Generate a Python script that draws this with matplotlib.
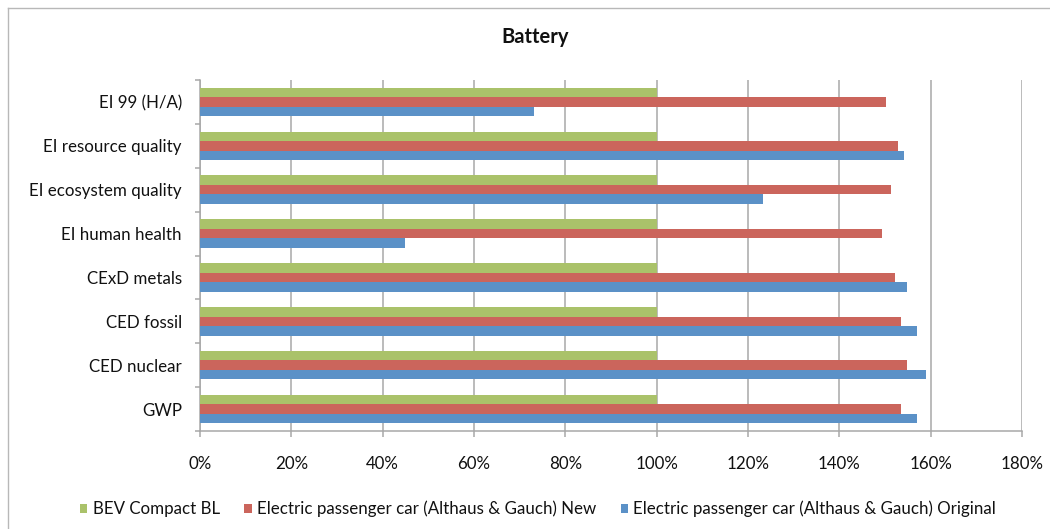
import numpy as np
import matplotlib.pyplot as plt
from matplotlib.lines import Line2D
from matplotlib.patches import Patch

plt.rcParams['font.family'] = ['Lato', 'DejaVu Sans']

categories = ['GWP', 'CED nuclear', 'CED fossil', 'CExD metals',
              'EI human health', 'EI ecosystem quality', 'EI resource quality', 'EI 99 (H/A)']
bev_baseline = [100, 100, 100, 100, 100, 100, 100, 100]
althaus_new = [153.5, 154.9, 153.5, 152.2, 149.4, 151.4, 152.8, 150.2]
althaus_original = [156.9, 159.0, 157.1, 154.8, 44.8, 123.3, 154.2, 73.1]
series_names = ['BEV Compact BL',
                'Electric passenger car (Althaus & Gauch) New',
                'Electric passenger car (Althaus & Gauch) Original']
colors = ['#AAC26A', '#CB655C', '#5B91C7']
xticks = [0, 20, 40, 60, 80, 100, 120, 140, 160, 180]

fig = plt.figure(figsize=(10.5, 5.29), dpi=100)
ax = fig.add_axes([200 / 1050, 1 - 431 / 529, 822 / 1050, 351 / 529])

y = np.arange(len(categories))
h = 0.216
ax.barh(y + h, bev_baseline, height=h, color=colors[0], zorder=3)
ax.barh(y, althaus_new, height=h, color=colors[1], zorder=3)
ax.barh(y - h, althaus_original, height=h, color=colors[2], zorder=3)

ax.set_xlim(0, 180)
ax.set_ylim(-0.5, len(categories) - 0.5)
ax.set_xticks(xticks)
ax.set_xticklabels([f'{v}%' for v in xticks])
ax.set_yticks(y)
ax.set_yticklabels(categories)
ax.set_yticks(np.arange(-0.5, len(categories), 1), minor=True)

grid_col = '#A8A8A8'
ax.grid(axis='x', color=grid_col, linewidth=1.1, zorder=0)
for side in ['top', 'right']:
    ax.spines[side].set_visible(False)
for side in ['left', 'bottom']:
    ax.spines[side].set_color(grid_col)
    ax.spines[side].set_linewidth(1.1)

ax.tick_params(axis='y', which='major', length=0, pad=13, labelsize=12.2, labelcolor='#111111')
ax.tick_params(axis='y', which='minor', length=3.5, color=grid_col, width=1.1, direction='out')
ax.tick_params(axis='x', length=4, color=grid_col, width=1.1, direction='out',
               pad=14, labelsize=12.2, labelcolor='#111111')

fig.text(535 / 1050, 1 - 37 / 529, 'Battery', ha='center', va='center',
         fontsize=14.5, fontweight='bold', color='#111111')

handles = [Patch(facecolor=c) for c in colors]
fig.legend(handles, series_names, loc='center', bbox_to_anchor=(538 / 1050, 1 - 509 / 529),
           ncol=3, frameon=False, fontsize=12.2, handlelength=0.45, handleheight=0.45,
           handletextpad=0.3, columnspacing=1.45, labelcolor='#111111')

# light frame around the chart area
fig.add_artist(Line2D([8 / 1050, 1.01], [1 - 8 / 529, 1 - 8 / 529],
                      transform=fig.transFigure, color='#B8B8B8', linewidth=1))
fig.add_artist(Line2D([8 / 1050, 8 / 1050], [1 - 8 / 529, -0.01],
                      transform=fig.transFigure, color='#B8B8B8', linewidth=1))

fig.savefig('out.png', dpi=100)
